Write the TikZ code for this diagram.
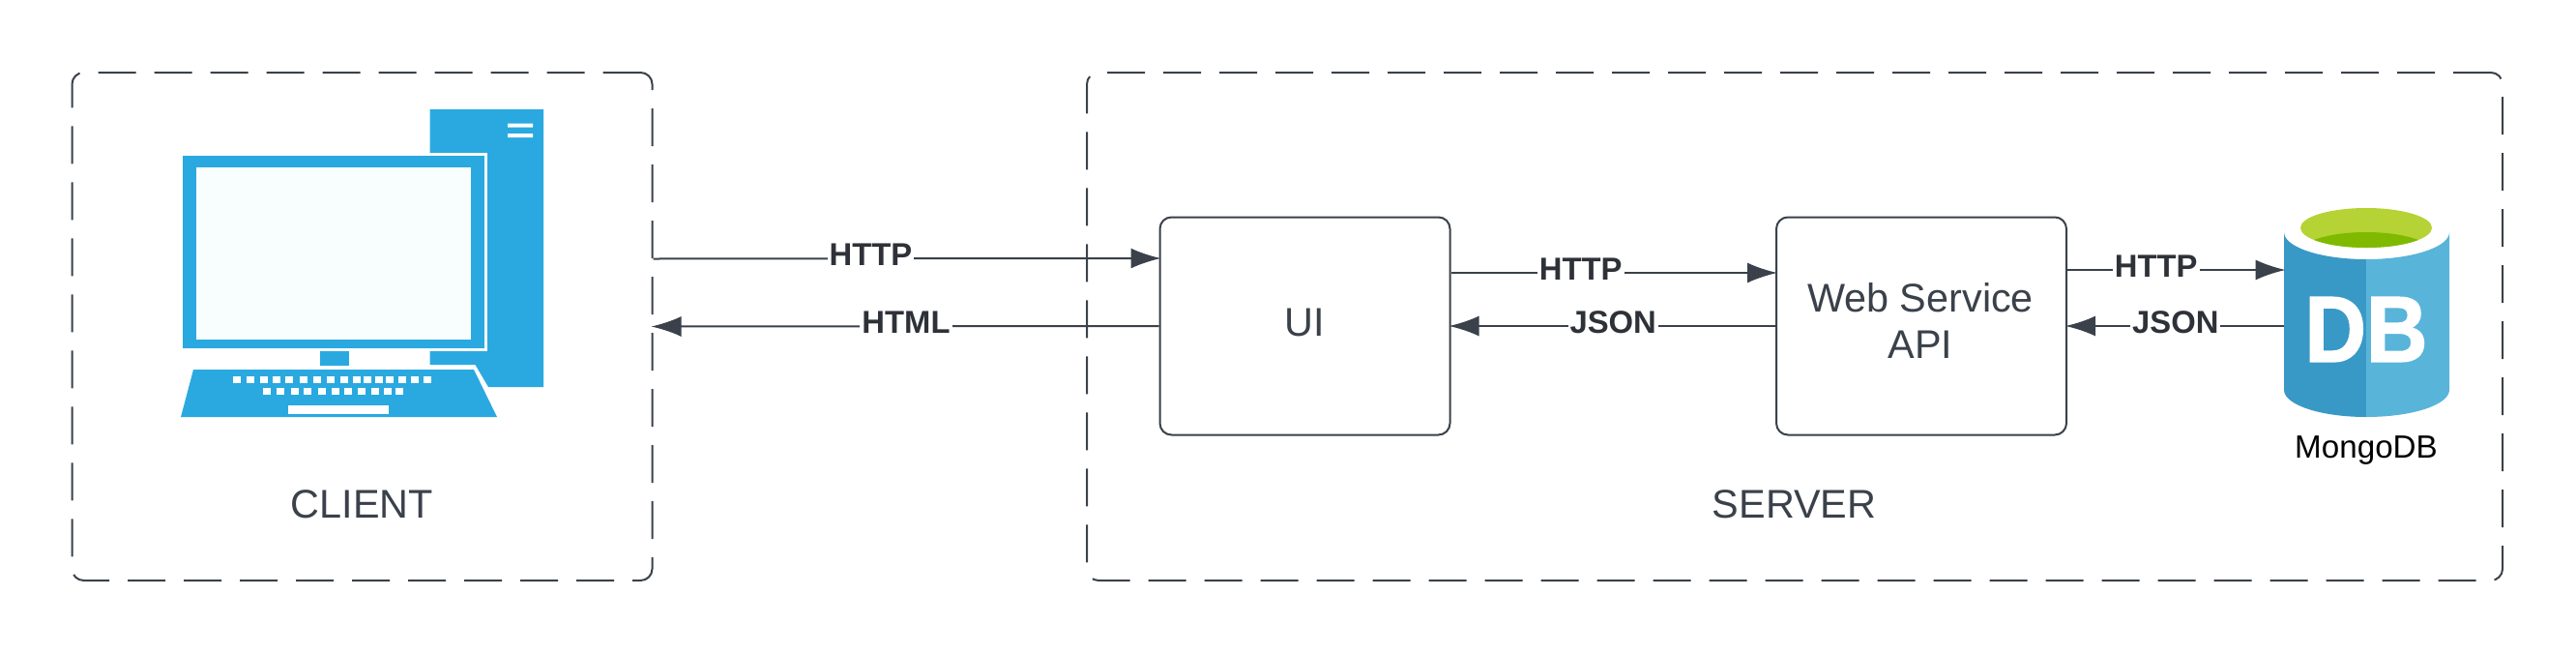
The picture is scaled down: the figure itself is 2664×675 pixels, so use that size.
\documentclass[tikz,border=0pt]{standalone}
\usepackage{fontspec}
\setmainfont{Liberation Sans}
\newfontfamily\dbfont[FakeBold=1.6]{Liberation Sans Bold}
\usetikzlibrary{arrows.meta}
\definecolor{inkgray}{HTML}{3A414A}
\definecolor{labelgray}{HTML}{2E3238}
\definecolor{compblue}{HTML}{2AA9E0}
\definecolor{screenwhite}{HTML}{F8FDFD}
\definecolor{dbleft}{HTML}{3999C6}
\definecolor{dbright}{HTML}{59B4D9}
\definecolor{dbrim}{HTML}{B5D334}
\definecolor{dbinner}{HTML}{7FBA00}
\tikzset{
    zonebox/.style={draw=inkgray, line width=1pt, rounded corners=6pt, dash pattern=on 19.5pt off 9.5pt},
    tierbox/.style={draw=inkgray, line width=1pt, rounded corners=6pt, minimum width=150pt, minimum height=112.5pt},
    zonelabel/.style={align=center, text=inkgray, font=\fontsize{20.7}{24}\selectfont},
    flow/.style={draw=inkgray, line width=1pt, shorten >=-1pt, -{Latex[length=15.5pt,width=10.5pt]}},
    flowlabel/.style={fill=white, inner sep=1pt, yshift=2pt, text=labelgray, font=\fontsize{16.4}{18}\selectfont\bfseries},
}
\begin{document}
\begin{tikzpicture}[x=0.5pt,y=-0.5pt]
    \useasboundingbox (0,0) rectangle (2664,675);
    % zones
    \node[zonebox, minimum width=300pt, minimum height=262.5pt] (client) at (374.5,337.5) {};
    \node[zonebox, minimum width=732pt, minimum height=262.5pt] (server) at (1856,337.5) {};
    \node[zonelabel] (clientlabel) at (374.5,521) {CLIENT};
    \node[zonelabel] (serverlabel) at (1855.5,521) {SERVER};

    % computer icon
    \fill[compblue] (444.5,113) -- (562,113) -- (562,400) -- (505,400) -- (491.5,377) -- (444.5,377) -- cycle;
    \fill[white] (525,127.5) rectangle (551,131.5) (525,138) rectangle (551,142);
    \fill[white] (430,157.5) rectangle (503.7,363);
    \fill[compblue] (189,161) rectangle (501,360);
    \fill[screenwhite] (203,173) rectangle (487,351);
    \fill[compblue] (331,363) rectangle (361,378);
    \fill[compblue] (200,382) -- (490,382) -- (514,431) -- (187,431) -- cycle;
    \foreach \x in {241,255,269,282,295,310,324,338,352,365,376,388,399,412,425,438}
        \fill[white] (\x,389) rectangle +(8,7);
    \foreach \x in {272,286,301,314,329,343,356,370,384,397,409}
        \fill[white] (\x,401) rectangle +(8,6.5);
    \fill[white] (298,418.5) rectangle (402,428);

    % tiers
    \node[tierbox] (ui) at (1349.5,337) {};
    \node[tierbox] (web) at (1987,337) {};
    \node[zonelabel] (uilabel) at (1349.5,333.5) {UI};
    \node[zonelabel] (weblabel) at (1986,331) {Web Service\\API};

    % database icon
    \node[minimum width=85.5pt, minimum height=109pt, inner sep=0pt] (mongo) at (2447.5,322) {};
    \fill[dbleft] (2362,240) -- (2362,403) arc[start angle=180,end angle=90,x radius=85,y radius=28]
        -- (2447,268) arc[start angle=90,end angle=180,x radius=85,y radius=28] -- cycle;
    \fill[dbright] (2447,431) arc[start angle=90,end angle=0,x radius=86,y radius=28]
        -- (2533,240) arc[start angle=0,end angle=90,x radius=86,y radius=28] -- cycle;
    \fill[dbrim] (2447,235.5) ellipse[x radius=68,y radius=20.5];
    \begin{scope}
        \clip (2447,235.5) ellipse[x radius=68,y radius=20.5];
        \fill[dbinner] (2447,262) ellipse[x radius=70,y radius=22];
    \end{scope}
    \node[text=white, inner sep=0pt, yscale=1.1, transform shape, font=\fontsize{44}{44}\dbfont] (dbmark) at (2447,340.5) {DB};
    \node[text=black, font=\fontsize{16.6}{20}\selectfont] (mongolabel) at (2447,466) {MongoDB};

    % connectors
    \draw[flow] ([yshift=35pt]client.east) -- node[flowlabel, pos=0.43] (httpa) {HTTP} ([yshift=35pt]ui.west);
    \draw[flow] (ui.west) -- node[flowlabel] (htmla) {HTML} (client.east);
    \draw[flow] ([yshift=27.5pt]ui.east) -- node[flowlabel, pos=0.40] (httpb) {HTTP} ([yshift=27.5pt]web.west);
    \draw[flow] (web.west) -- node[flowlabel] (jsonb) {JSON} (ui.east);
    \draw[flow] ([yshift=29pt]web.east) -- node[flowlabel, pos=0.41] (httpc) {HTTP} ([yshift=29pt]web.east -| mongo.west);
    \draw[flow] (web.east -| mongo.west) -- node[flowlabel] (jsonc) {JSON} (web.east);
\end{tikzpicture}
\end{document}
